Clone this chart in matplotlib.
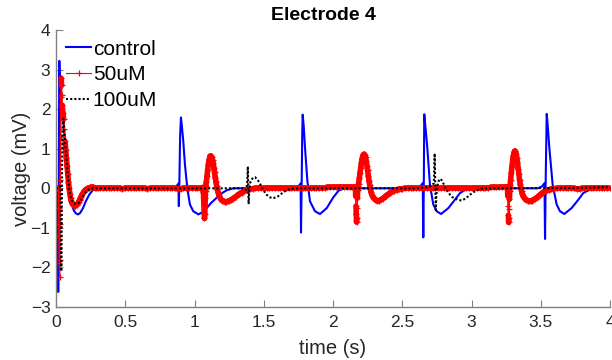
import matplotlib
matplotlib.use("Agg")
import matplotlib.pyplot as plt
import numpy as np
from matplotlib.collections import LineCollection

plt.rcParams["font.family"] = ["Liberation Sans", "DejaVu Sans"]

# ---- recorded traces: time (s) and voltage (mV) ----
control_t = [0.000, 0.010, 0.013, 0.016, 0.019, 0.022, 0.024, 0.027, 0.032, 0.040,
             0.053, 0.065, 0.077, 0.089, 0.101, 0.115, 0.130, 0.145, 0.160, 0.175,
             0.195, 0.215, 0.240, 0.265, 0.290, 0.850, 0.870, 0.884, 0.887, 0.891,
             0.896, 0.902, 0.908, 0.919, 0.931, 0.948, 0.967, 0.991, 1.028, 1.060,
             1.088, 1.120, 1.160, 1.200, 1.232, 1.280, 1.720, 1.750, 1.766, 1.769,
             1.774, 1.778, 1.781, 1.788, 1.798, 1.815, 1.834, 1.870, 1.906, 1.955,
             2.000, 2.040, 2.080, 2.600, 2.630, 2.648, 2.652, 2.656, 2.659, 2.666,
             2.681, 2.700, 2.724, 2.749, 2.780, 2.833, 2.880, 2.917, 2.960, 3.000,
             3.480, 3.510, 3.527, 3.531, 3.536, 3.543, 3.550, 3.562, 3.586, 3.615,
             3.639, 3.670, 3.723, 3.771, 3.807, 3.856, 3.900, 4.000]
control_v = [0.00, 0.00, -0.40, -2.62, -1.00, 2.00, 3.22, 2.80, 2.30, 2.00,
             1.69, 1.19, 0.68, 0.18, -0.18, -0.42, -0.57, -0.64, -0.66, -0.62,
             -0.50, -0.33, -0.16, -0.05, 0.00, 0.00, 0.05, 0.12, -0.45, 0.20,
             1.30, 1.79, 1.60, 1.19, 0.60, 0.00, -0.41, -0.58, -0.66, -0.60,
             -0.50, -0.37, -0.24, -0.12, -0.05, 0.00, 0.00, 0.05, 0.12, -1.12,
             0.20, 1.40, 1.86, 1.60, 1.02, 0.18, -0.33, -0.58, -0.65, -0.50,
             -0.24, -0.06, 0.00, 0.00, 0.05, 0.13, -1.24, 0.30, 1.87, 1.60,
             1.02, 0.09, -0.41, -0.58, -0.65, -0.50, -0.29, -0.12, -0.03, 0.00,
             0.00, 0.05, 0.13, -1.28, 0.30, 1.88, 1.60, 1.02, 0.09, -0.41,
             -0.58, -0.65, -0.50, -0.29, -0.12, -0.03, 0.00, 0.00]

uM50_t = [
    # first response
    0.000, 0.005, 0.010, 0.018, 0.020, 0.022, 0.024, 0.026, 0.028, 0.030,
    0.032, 0.034, 0.036, 0.038, 0.040, 0.042, 0.045, 0.050, 0.055, 0.060,
    0.065, 0.070, 0.075, 0.080, 0.085, 0.090, 0.095, 0.100, 0.105, 0.110,
    0.115, 0.120, 0.125, 0.130, 0.135, 0.140, 0.145, 0.150, 0.155, 0.160,
    0.165, 0.170, 0.175, 0.180, 0.190, 0.200, 0.210, 0.220, 0.230, 0.240,
    0.250, 0.260, 0.270, 0.280, 0.290, 0.300,
    # quiet stretch
    0.32, 0.34, 0.36, 0.38, 0.40, 0.42, 0.44, 0.46, 0.48, 0.50,
    0.52, 0.54, 0.56, 0.58, 0.60, 0.62, 0.64, 0.66, 0.68, 0.70,
    0.72, 0.74, 0.76, 0.78, 0.80, 0.82, 0.84, 0.86, 0.88, 0.90,
    0.92, 0.94, 0.96, 0.98, 1.00, 1.02, 1.04,
    # second response
    1.050, 1.058, 1.062, 1.064, 1.066, 1.068, 1.070, 1.072, 1.074, 1.076,
    1.078, 1.080, 1.082, 1.085, 1.090, 1.095, 1.100, 1.105, 1.110, 1.115,
    1.120, 1.125, 1.130, 1.135, 1.140, 1.145, 1.150, 1.155, 1.160, 1.165,
    1.170, 1.175, 1.180, 1.190, 1.200, 1.210, 1.220, 1.230, 1.240, 1.250,
    1.260, 1.270, 1.280, 1.290, 1.300, 1.310, 1.320, 1.330, 1.340, 1.350,
    1.360, 1.370, 1.380, 1.390, 1.400, 1.420, 1.440,
    # quiet stretch
    1.46, 1.48, 1.50, 1.52, 1.54, 1.56, 1.58, 1.60, 1.62, 1.64,
    1.66, 1.68, 1.70, 1.72, 1.74, 1.76, 1.78, 1.80, 1.82, 1.84,
    1.86, 1.88, 1.90, 1.92, 1.94, 1.96, 1.98, 2.00, 2.02, 2.04,
    2.06, 2.08, 2.10, 2.12, 2.14,
    # third response
    2.150, 2.158, 2.162, 2.164, 2.166, 2.168, 2.170, 2.172, 2.174, 2.176,
    2.178, 2.181, 2.185, 2.190, 2.195, 2.200, 2.205, 2.210, 2.215, 2.220,
    2.225, 2.230, 2.235, 2.240, 2.245, 2.250, 2.255, 2.260, 2.265, 2.270,
    2.275, 2.280, 2.290, 2.300, 2.310, 2.320, 2.330, 2.340, 2.350, 2.360,
    2.370, 2.380, 2.390, 2.400, 2.410, 2.420, 2.430, 2.440, 2.450, 2.460,
    2.470, 2.480, 2.490, 2.500, 2.520,
    # quiet stretch
    2.54, 2.56, 2.58, 2.60, 2.62, 2.64, 2.66, 2.68, 2.70, 2.72,
    2.74, 2.76, 2.78, 2.80, 2.82, 2.84, 2.86, 2.88, 2.90, 2.92,
    2.94, 2.96, 2.98, 3.00, 3.02, 3.04, 3.06, 3.08, 3.10, 3.12,
    3.14, 3.16, 3.18, 3.20, 3.22, 3.24,
    # fourth response
    3.250, 3.256, 3.260, 3.262, 3.264, 3.266, 3.268, 3.270, 3.272, 3.274,
    3.276, 3.279, 3.282, 3.287, 3.292, 3.297, 3.302, 3.307, 3.312, 3.317,
    3.322, 3.327, 3.332, 3.337, 3.342, 3.347, 3.352, 3.357, 3.362, 3.367,
    3.372, 3.377, 3.387, 3.397, 3.407, 3.417, 3.427, 3.437, 3.447, 3.457,
    3.467, 3.477, 3.487, 3.497, 3.507, 3.517, 3.527, 3.537, 3.547, 3.557,
    3.567, 3.577, 3.587, 3.597, 3.617,
    # quiet stretch
    3.64, 3.66, 3.68, 3.70, 3.72, 3.74, 3.76, 3.78, 3.80, 3.82,
    3.84, 3.86, 3.88, 3.90, 3.92, 3.94, 3.96, 3.98, 4.00,
]
uM50_v = [
    0.00, 0.00, 0.00, 0.00, -0.50, -1.20, -1.90, -2.23, -1.80, -0.90,
    0.20, 1.30, 2.30, 2.78, 2.60, 2.35, 2.10, 1.90, 1.75, 1.50,
    1.19, 0.98, 0.77, 0.56, 0.35, 0.15, 0.00, -0.14, -0.24, -0.32,
    -0.37, -0.40, -0.42, -0.43, -0.44, -0.44, -0.43, -0.42, -0.40, -0.37,
    -0.34, -0.30, -0.26, -0.22, -0.15, -0.09, -0.05, -0.02, 0.00, 0.01,
    0.02, 0.02, 0.02, 0.01, 0.01, 0.00,
    0.00, 0.00, 0.00, 0.01, 0.01, 0.00, 0.00, 0.00, -0.01, 0.00,
    0.00, 0.00, 0.01, 0.00, 0.00, 0.00, 0.00, -0.01, 0.00, 0.00,
    0.00, 0.00, 0.01, 0.01, 0.00, 0.00, 0.00, 0.00, -0.01, -0.01,
    0.00, 0.00, 0.00, 0.01, 0.01, 0.00, 0.00,
    0.00, 0.02, 0.00, -0.10, -0.25, -0.42, -0.60, -0.76, -0.66, -0.45,
    -0.25, -0.06, 0.05, 0.15, 0.30, 0.46, 0.60, 0.71, 0.78, 0.81,
    0.81, 0.78, 0.72, 0.63, 0.52, 0.40, 0.27, 0.16, 0.06, -0.03,
    -0.10, -0.16, -0.21, -0.27, -0.31, -0.33, -0.34, -0.34, -0.33, -0.32,
    -0.30, -0.28, -0.26, -0.23, -0.21, -0.18, -0.15, -0.13, -0.11, -0.09,
    -0.07, -0.05, -0.04, -0.03, -0.02, -0.01, 0.00,
    0.00, 0.00, 0.00, 0.00, 0.00, 0.00, 0.00, 0.00, 0.00, 0.00,
    0.00, 0.00, 0.01, 0.01, 0.01, 0.01, 0.00, 0.00, 0.00, 0.00,
    0.01, 0.01, 0.01, 0.01, 0.01, 0.02, 0.02, 0.02, 0.02, 0.02,
    0.02, 0.02, 0.02, 0.02, 0.02,
    0.02, 0.03, 0.00, -0.20, -0.45, -0.65, -0.85, -0.75, -0.50, -0.25,
    -0.05, 0.05, 0.12, 0.25, 0.38, 0.52, 0.64, 0.74, 0.81, 0.85,
    0.86, 0.84, 0.78, 0.69, 0.57, 0.45, 0.32, 0.19, 0.08, -0.02,
    -0.10, -0.16, -0.23, -0.27, -0.30, -0.31, -0.31, -0.30, -0.28, -0.26,
    -0.23, -0.20, -0.17, -0.15, -0.12, -0.10, -0.08, -0.06, -0.05, -0.04,
    -0.03, -0.02, -0.02, -0.01, 0.00,
    0.00, 0.00, 0.00, 0.00, 0.00, 0.00, 0.00, 0.00, 0.00, 0.00,
    0.00, 0.00, 0.00, 0.00, 0.00, 0.00, 0.00, 0.00, 0.00, 0.00,
    0.00, 0.00, 0.00, 0.00, 0.01, 0.01, 0.01, 0.01, 0.01, 0.01,
    0.02, 0.02, 0.02, 0.03, 0.03, 0.03,
    0.03, 0.04, 0.00, -0.20, -0.45, -0.68, -0.86, -0.76, -0.52, -0.28,
    -0.06, 0.08, 0.20, 0.38, 0.55, 0.70, 0.82, 0.90, 0.94, 0.93,
    0.87, 0.77, 0.65, 0.50, 0.36, 0.22, 0.10, 0.00, -0.08, -0.14,
    -0.19, -0.22, -0.27, -0.30, -0.31, -0.32, -0.32, -0.31, -0.29, -0.27,
    -0.25, -0.22, -0.19, -0.16, -0.13, -0.10, -0.08, -0.06, -0.05, -0.04,
    -0.03, -0.02, -0.02, -0.01, 0.00,
    0.00, 0.00, 0.00, 0.00, 0.00, 0.00, -0.01, -0.01, 0.00, 0.00,
    0.00, 0.00, 0.00, 0.00, 0.00, 0.00, 0.00, 0.00, 0.00,
]

uM100_t = [0.000, 0.025, 0.030, 0.034, 0.038, 0.041, 0.044, 0.048, 0.053, 0.058,
           0.065, 0.077, 0.089, 0.101, 0.115, 0.130, 0.149, 0.165, 0.185, 0.205,
           0.225, 0.245, 0.270, 1.350, 1.372, 1.380, 1.385, 1.388, 1.391, 1.395,
           1.400, 1.412, 1.425, 1.437, 1.455, 1.475, 1.495, 1.520, 1.545, 1.570,
           1.600, 1.630, 1.660, 1.700, 1.750, 2.600, 2.690, 2.715, 2.728, 2.734,
           2.738, 2.742, 2.746, 2.752, 2.765, 2.777, 2.792, 2.810, 2.830, 2.860,
           2.900, 2.930, 2.960, 2.990, 3.030, 3.070, 3.120, 3.800, 4.000]
uM100_v = [0.00, 0.00, 0.10, -0.60, -2.10, -1.20, 0.50, 1.50, 1.76, 1.60,
           1.19, 0.68, 0.18, -0.16, -0.31, -0.38, -0.40, -0.37, -0.27, -0.15,
           -0.06, -0.01, 0.00, 0.00, -0.05, 0.10, 0.55, 0.00, -0.40, -0.05,
           0.12, 0.22, 0.27, 0.28, 0.22, 0.10, -0.04, -0.16, -0.23, -0.25,
           -0.21, -0.13, -0.06, -0.01, 0.00, 0.00, 0.03, 0.08, 0.13, 0.88,
           0.20, -0.55, -0.20, 0.05, 0.20, 0.24, 0.16, 0.02, -0.10, -0.22,
           -0.29, -0.31, -0.25, -0.16, -0.06, -0.01, 0.00, 0.01, 0.03]

series_labels = ["control", "50uM", "100uM"]
x_ticks = [0, 0.5, 1, 1.5, 2, 2.5, 3, 3.5, 4]
x_tick_labels = ["0", "0.5", "1", "1.5", "2", "2.5", "3", "3.5", "4"]
y_ticks = [-3, -2, -1, 0, 1, 2, 3, 4]

fig = plt.figure(figsize=(6.12, 3.6), dpi=100)
ax = fig.add_axes([56 / 612, 53 / 360, 554 / 612, 277 / 360])
ax.set_xlim(0, 4)
ax.set_ylim(-3, 4)

ax.plot(control_t, control_v, color="#0000ff", lw=1.5, label=series_labels[0])

# 50uM: the densely packed "+" markers merge into a thick band wherever the
# trace moves slowly; on the fast jumps only the thin line and crosses show.
pts = np.column_stack([uM50_t, uM50_v])
segs = np.stack([pts[:-1], pts[1:]], axis=1)
pix = ax.transData.transform(pts)
step = np.hypot(*np.diff(pix, axis=0).T)
band = LineCollection(segs, colors="#ff0000",
                      linewidths=np.where(step < 9, 4.0, 0.8),
                      capstyle="round", joinstyle="round")
ax.add_collection(band)
ax.plot(uM50_t, uM50_v, color="#ff0000", lw=0.8, marker="+", ms=5, mew=0.9,
        label=series_labels[1])

ax.plot(uM100_t, uM100_v, color="black", lw=1.5, ls=(0, (1, 1)),
        label=series_labels[2])

ax.set_xticks(x_ticks)
ax.set_xticklabels(x_tick_labels)
ax.set_yticks(y_ticks)

axis_grey = "#808080"
text_grey = "#262626"
for side in ("top", "right"):
    ax.spines[side].set_visible(False)
for side in ("left", "bottom"):
    ax.spines[side].set_color(axis_grey)
    ax.spines[side].set_linewidth(1.0)
ax.tick_params(direction="in", length=5, width=0.8, color=axis_grey,
               labelsize=12.5, labelcolor=text_grey)
ax.tick_params(axis="x", pad=6)
ax.tick_params(axis="y", pad=4)

ax.set_xlabel("time (s)", fontsize=14.5, color=text_grey, labelpad=6.5)
ax.set_ylabel("voltage (mV)", fontsize=14.5, color=text_grey, labelpad=0)
ax.set_title("Electrode 4", fontsize=14, fontweight="bold", color="black",
             pad=7, x=0.482)

leg = ax.legend(loc="upper left", bbox_to_anchor=(-0.008, 1.018), frameon=False,
                fontsize=15, handlelength=1.2, handletextpad=0.08,
                labelspacing=0.33, borderaxespad=0.3)

fig.savefig("out.png", dpi=100)
